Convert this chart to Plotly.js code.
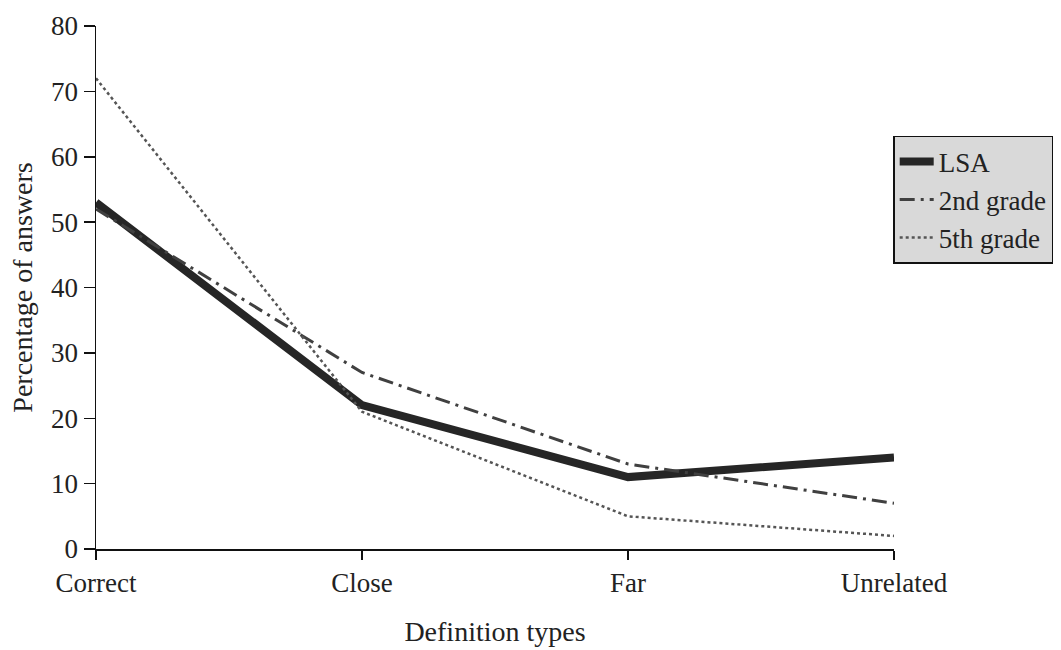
<!DOCTYPE html>
<html>
<head>
<meta charset="utf-8">
<script src="https://cdn.plot.ly/plotly-3.0.1.min.js"></script>
<style>html,body{margin:0;padding:0;background:#fff;}#chart{width:1061px;height:650px;}</style>
</head>
<body>
<div id="chart"></div>
<script>
const categories = ["Correct", "Close", "Far", "Unrelated"];
const lsa = [53, 22, 11, 14];
const grade2 = [52, 27, 13, 7];
const grade5 = [72, 21, 5, 2];
const yTicks = [0, 10, 20, 30, 40, 50, 60, 70, 80];

const traces = [
  {x: categories, y: lsa, name: "LSA", type: "scatter", mode: "lines",
   line: {color: "#262626", width: 8}},
  {x: categories, y: grade2, name: "2nd grade", type: "scatter", mode: "lines",
   line: {color: "#404040", width: 3, dash: "longdashdot"}},
  {x: categories, y: grade5, name: "5th grade", type: "scatter", mode: "lines",
   line: {color: "#555555", width: 2.5, dash: "dot"}}
];

const layout = {
  width: 1061, height: 650,
  margin: {l: 96, r: 167, t: 26, b: 101, autoexpand: false},
  paper_bgcolor: "#ffffff", plot_bgcolor: "#ffffff",
  font: {family: "Liberation Serif, Times New Roman, serif", size: 27, color: "#222"},
  showlegend: true,
  legend: {x: 0.999, xanchor: "left", y: 0.79, yanchor: "top",
           bgcolor: "#d9d9d9", bordercolor: "#111", borderwidth: 1.5,
           font: {size: 27, color: "#222"}, tracegroupgap: 0, itemwidth: 34},
  xaxis: {
    type: "category", range: [0, 3], showgrid: false, zeroline: false,
    showline: true, linecolor: "#111", linewidth: 1.5,
    ticks: "outside", ticklen: 9, tickcolor: "#111", tickwidth: 1.5,
    title: {text: "Definition types", font: {size: 28}, standoff: 24}
  },
  yaxis: {
    range: [0, 80], tickvals: yTicks, ticktext: yTicks.map(String),
    showgrid: false, zeroline: false,
    showline: true, linecolor: "#111", linewidth: 1.5,
    ticks: "outside", ticklen: 11, tickcolor: "#111", tickwidth: 1.5,
    title: {text: "Percentage of answers", font: {size: 28}, standoff: 10}
  }
};

Plotly.newPlot("chart", traces, layout, {displayModeBar: false, staticPlot: true});
</script>
</body>
</html>
